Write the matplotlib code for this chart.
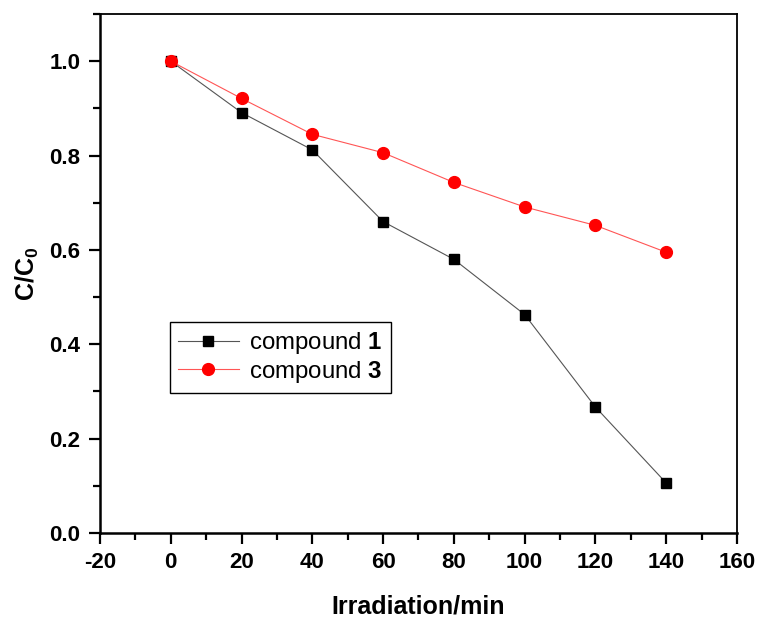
import matplotlib
matplotlib.use("Agg")
import matplotlib.pyplot as plt
from matplotlib.ticker import MultipleLocator, FormatStrFormatter

plt.rcParams['font.family'] = ['Liberation Sans', 'DejaVu Sans']
plt.rcParams['mathtext.fontset'] = 'custom'
plt.rcParams['mathtext.rm'] = 'Liberation Sans'
plt.rcParams['mathtext.bf'] = 'Liberation Sans:bold'
plt.rcParams['axes.unicode_minus'] = False

# irradiation time (min) and relative concentration C/C0
time_min = [0, 20, 40, 60, 80, 100, 120, 140]
compound1 = [1.0, 0.891, 0.812, 0.660, 0.580, 0.463, 0.267, 0.106]
compound3 = [1.0, 0.921, 0.845, 0.806, 0.743, 0.691, 0.652, 0.595]
series_labels = [r"compound $\mathbf{1}$", r"compound $\mathbf{3}$"]

fig = plt.figure(figsize=(7.58, 6.19), dpi=100)
ax = fig.add_axes([0.1319, 0.1389, 0.8404, 0.8385])

ax.plot(time_min, compound1, color="#555555", lw=0.8, marker="s",
        markersize=7, markerfacecolor="black", markeredgecolor="black",
        label=series_labels[0])
ax.plot(time_min, compound3, color="#ff5555", lw=0.8, marker="o",
        markersize=8.5, markerfacecolor="red", markeredgecolor="red",
        label=series_labels[1])

ax.set_xlim(-20, 160)
ax.set_ylim(0, 1.1)
ax.xaxis.set_major_locator(MultipleLocator(20))
ax.xaxis.set_minor_locator(MultipleLocator(10))
ax.yaxis.set_major_locator(MultipleLocator(0.2))
ax.yaxis.set_minor_locator(MultipleLocator(0.1))
ax.yaxis.set_major_formatter(FormatStrFormatter("%.1f"))

ax.tick_params(which="both", direction="out", top=False, right=False,
               width=1.6)
ax.tick_params(which="major", length=8, labelsize=16, pad=6)
ax.tick_params(which="minor", length=5)
for lab in ax.get_xticklabels() + ax.get_yticklabels():
    lab.set_fontweight("bold")

for side in ["left", "bottom"]:
    ax.spines[side].set_linewidth(1.8)
for side in ["top", "right"]:
    ax.spines[side].set_linewidth(1.3)

ax.set_xlabel("Irradiation/min", fontsize=18, fontweight="bold", labelpad=15)
ax.set_ylabel(r"$\mathbf{C/C_0}$", fontsize=18, labelpad=6)

leg = ax.legend(loc="upper left", bbox_to_anchor=(0.11, 0.407),
                borderaxespad=0, fontsize=17.3, fancybox=False,
                edgecolor="black", framealpha=1, handlelength=2.5,
                borderpad=0.35, labelspacing=0.1, handletextpad=0.45)
leg.get_frame().set_linewidth(1.0)

fig.savefig("out.png", dpi=100)
plt.close(fig)
